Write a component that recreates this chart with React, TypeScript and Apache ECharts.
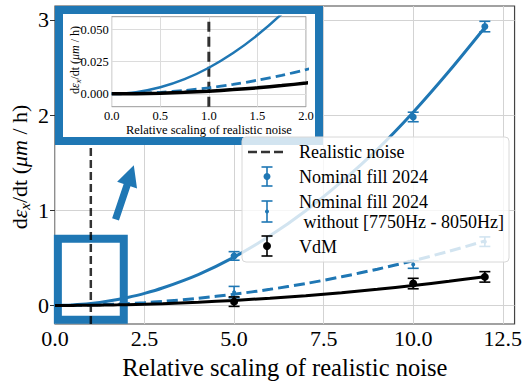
import React, { useEffect, useRef } from 'react';
import * as echarts from 'echarts';

const BLUE = '#1f77b4';
const FONT = 'Liberation Serif';

// fitted curves
const curveX = [0, 0.25, 0.5, 0.75, 1, 1.25, 1.5, 1.75, 2, 2.5, 3, 4, 5, 6, 7, 8, 9, 10, 11, 12];
const nominalFit = [0, 0.0013, 0.0051, 0.0114, 0.0203, 0.0317, 0.0457, 0.0622, 0.0812, 0.127, 0.183, 0.325, 0.508, 0.731, 0.995, 1.3, 1.64, 2.03, 2.46, 2.92];
const withoutFit = [0, 0.0003, 0.0012, 0.0026, 0.0047, 0.0073, 0.0106, 0.0144, 0.0188, 0.029, 0.042, 0.075, 0.118, 0.169, 0.23, 0.301, 0.381, 0.47, 0.569, 0.677];
const vdmFit = [0, 0.0001, 0.0005, 0.0012, 0.0021, 0.0033, 0.0047, 0.0064, 0.0084, 0.013, 0.019, 0.034, 0.053, 0.076, 0.103, 0.134, 0.17, 0.21, 0.254, 0.302];

// measured points with error bars
const pointX = [5, 10, 12];
const nominalY = [0.52, 1.98, 2.93];
const nominalErr = [0.045, 0.05, 0.055];
const withoutY = [0.14, 0.43, 0.67];
const withoutErr = [0.06, 0.04, 0.05];
const vdmY = [0.04, 0.23, 0.3];
const vdmErr = [0.05, 0.055, 0.055];

const realisticNoise = 1;

// axes
const mainXRange = [0, 12.83];
const mainYRange = [-0.195, 3.146];
const mainXTicks = [0, 2.5, 5, 7.5, 10, 12.5];
const mainYTicks = [0, 1, 2, 3];
const insetXRange = [0, 2];
const insetYRange = [-0.01, 0.06];
const insetYTicks = [0, 0.025, 0.05];

// zoom box [x0, y0, x1, y1] and arrow [tailX, tailY, tipX, tipY] in data units
const zoomBox = [0.08, -0.15, 1.92, 0.7];
const arrow = [1.69, 0.905, 2.2, 1.473];

const xTitle = 'Relative scaling of realistic noise';
const legendLabels = ['Realistic noise', 'Nominal fill 2024', 'Nominal fill 2024', ' without [7750Hz - 8050Hz]', 'VdM'];

function errRenderer(color: string, r: number, cap: number, lw: number) {
  return (params: any, api: any) => {
    const x = api.value(0), y = api.value(1), e = api.value(2);
    const p = api.coord([x, y]);
    const lo = api.coord([x, y - e]);
    const hi = api.coord([x, y + e]);
    const st = { stroke: color, lineWidth: lw };
    return {
      type: 'group',
      children: [
        { type: 'line', shape: { x1: p[0], y1: lo[1], x2: p[0], y2: hi[1] }, style: st },
        { type: 'line', shape: { x1: p[0] - cap, y1: lo[1], x2: p[0] + cap, y2: lo[1] }, style: st },
        { type: 'line', shape: { x1: p[0] - cap, y1: hi[1], x2: p[0] + cap, y2: hi[1] }, style: st },
        { type: 'circle', shape: { cx: p[0], cy: p[1], r }, style: { fill: color } },
      ],
    };
  };
}

function pairs(xs: number[], ys: number[]) {
  return xs.map((x, i) => [x, ys[i]]);
}
function triples(xs: number[], ys: number[], es: number[]) {
  return xs.map((x, i) => [x, ys[i], es[i]]);
}

export default function App() {
  const ref = useRef<HTMLDivElement>(null);
  useEffect(() => {
    if (!ref.current) return;
    const chart = echarts.init(ref.current, null, { renderer: 'svg' });
    const lineBase = { type: 'line', symbol: 'none', smooth: 0.3, silent: true };
    const yRich = (fs: number, sub: number, pad: number) => ({
      a: { fontSize: fs, fontFamily: FONT, fill: '#000' },
      i: { fontSize: fs, fontFamily: FONT, fontStyle: 'italic', fill: '#000' },
      s: { fontSize: sub, fontFamily: FONT, fontStyle: 'italic', fill: '#000', padding: [pad, 0, 0, 0] },
    });
    const yTitleText = '{a|d}{i|ε}{s|x}{a|/dt (}{i|μm}{a| / h)}';

    const option: any = {
      animation: false,
      textStyle: { fontFamily: FONT },
      grid: [
        { left: 55, right: 8, top: 6, bottom: 58, show: true, borderColor: '#444', borderWidth: 1.2, backgroundColor: '#fff', z: 0 },
        { left: 111.7, top: 16.7, width: 194.3, height: 90, show: true, borderColor: '#999', borderWidth: 1, backgroundColor: 'transparent', z: 6 },
      ],
      xAxis: [
        {
          type: 'value', gridIndex: 0, min: mainXRange[0], max: mainXRange[1], interval: 2.5,
          axisLine: { show: false },
          axisTick: { show: false, customValues: mainXTicks },
          axisLabel: { customValues: mainXTicks, formatter: (v: number) => v.toFixed(1), fontSize: 22, color: '#000', margin: 3, fontFamily: FONT },
          splitLine: { show: true, lineStyle: { color: '#d3d3d3', width: 1 } },
          name: xTitle, nameLocation: 'middle', nameGap: 31,
          nameTextStyle: { fontSize: 24.5, color: '#000', fontFamily: FONT },
        },
        {
          type: 'value', gridIndex: 1, min: insetXRange[0], max: insetXRange[1], interval: 0.5, z: 6,
          axisLine: { show: false },
          axisTick: { show: false },
          axisLabel: { formatter: (v: number) => v.toFixed(1), fontSize: 12.5, color: '#000', margin: 3, fontFamily: FONT },
          splitLine: { show: true, lineStyle: { color: '#dcdcdc', width: 1 } },
          name: xTitle, nameLocation: 'middle', nameGap: 16,
          nameTextStyle: { fontSize: 12.5, color: '#000', fontFamily: FONT },
        },
      ],
      yAxis: [
        {
          type: 'value', gridIndex: 0, min: mainYRange[0], max: mainYRange[1], splitNumber: 3,
          axisLine: { show: false },
          axisTick: { show: true, length: 5, lineStyle: { color: '#333' }, customValues: mainYTicks },
          axisLabel: { customValues: mainYTicks, formatter: (v: number) => String(Math.round(v)), fontSize: 22, color: '#000', margin: 6, fontFamily: FONT },
          splitLine: { show: true, lineStyle: { color: '#d3d3d3', width: 1 } },
        },
        {
          type: 'value', gridIndex: 1, min: insetYRange[0], max: insetYRange[1], z: 6,
          axisLine: { show: false },
          axisTick: { show: false, customValues: insetYTicks },
          axisLabel: { customValues: insetYTicks, formatter: (v: number) => v.toFixed(3), fontSize: 12.5, color: '#000', margin: 3, fontFamily: FONT },
          splitLine: { show: true, lineStyle: { color: '#dcdcdc', width: 1 } },
        },
      ],
      series: [
        // zoom box in main plot
        {
          type: 'custom', xAxisIndex: 0, yAxisIndex: 0, z: 2, silent: true, clip: false,
          data: [zoomBox], encode: { x: [0, 2], y: [1, 3] },
          renderItem: (params: any, api: any) => {
            const a = api.coord([api.value(0), api.value(3)]);
            const b = api.coord([api.value(2), api.value(1)]);
            return { type: 'rect', shape: { x: a[0], y: a[1], width: b[0] - a[0], height: b[1] - a[1] }, style: { fill: 'none', stroke: BLUE, lineWidth: 8, lineJoin: 'miter' } };
          },
        },
        // arrow
        {
          type: 'custom', xAxisIndex: 0, yAxisIndex: 0, z: 3, silent: true, clip: false,
          data: [arrow], encode: { x: [0, 2], y: [1, 3] },
          renderItem: (params: any, api: any) => {
            const t = api.coord([api.value(0), api.value(1)]);
            const h = api.coord([api.value(2), api.value(3)]);
            const dx = h[0] - t[0], dy = h[1] - t[1];
            const len = Math.hypot(dx, dy);
            const ux = dx / len, uy = dy / len;
            const nx = -uy, ny = ux;
            const hl = 21, hw = 10.5, sw = 3.6;
            const bx = h[0] - ux * hl, by = h[1] - uy * hl;
            const pts = [
              [t[0] + nx * sw, t[1] + ny * sw], [bx + nx * sw, by + ny * sw], [bx + nx * hw, by + ny * hw],
              [h[0], h[1]], [bx - nx * hw, by - ny * hw], [bx - nx * sw, by - ny * sw], [t[0] - nx * sw, t[1] - ny * sw],
            ];
            return { type: 'polygon', shape: { points: pts }, style: { fill: BLUE } };
          },
        },
        { ...lineBase, xAxisIndex: 0, yAxisIndex: 0, z: 3, smooth: false, data: [[realisticNoise, mainYRange[0]], [realisticNoise, mainYRange[1]]], lineStyle: { color: 'rgba(0,0,0,0.8)', width: 2.5, type: [8, 4] } },
        { ...lineBase, xAxisIndex: 0, yAxisIndex: 0, z: 3, data: pairs(curveX, nominalFit), lineStyle: { color: BLUE, width: 3 } },
        { ...lineBase, xAxisIndex: 0, yAxisIndex: 0, z: 3, data: pairs(curveX, withoutFit), lineStyle: { color: BLUE, width: 3, type: [11, 5] } },
        { ...lineBase, xAxisIndex: 0, yAxisIndex: 0, z: 3, data: pairs(curveX, vdmFit), lineStyle: { color: '#000', width: 3 } },
        { type: 'custom', xAxisIndex: 0, yAxisIndex: 0, z: 4, silent: true, clip: false, data: triples(pointX, nominalY, nominalErr), encode: { x: 0, y: 1 }, renderItem: errRenderer(BLUE, 3.5, 5.5, 1.6) },
        { type: 'custom', xAxisIndex: 0, yAxisIndex: 0, z: 4, silent: true, clip: false, data: triples(pointX, withoutY, withoutErr), encode: { x: 0, y: 1 }, renderItem: errRenderer(BLUE, 2, 5.5, 1.6) },
        { type: 'custom', xAxisIndex: 0, yAxisIndex: 0, z: 4, silent: true, clip: false, data: triples(pointX, vdmY, vdmErr), encode: { x: 0, y: 1 }, renderItem: errRenderer('#000', 4, 5.5, 1.6) },
        // inset
        { ...lineBase, xAxisIndex: 1, yAxisIndex: 1, z: 7, smooth: false, data: [[realisticNoise, insetYRange[0]], [realisticNoise, insetYRange[1]]], lineStyle: { color: 'rgba(0,0,0,0.8)', width: 3, type: [10, 5] } },
        { ...lineBase, xAxisIndex: 1, yAxisIndex: 1, z: 7, data: pairs(curveX, nominalFit), lineStyle: { color: BLUE, width: 2.5 } },
        { ...lineBase, xAxisIndex: 1, yAxisIndex: 1, z: 7, data: pairs(curveX, withoutFit), lineStyle: { color: BLUE, width: 2.8, type: [10, 5] } },
        { ...lineBase, xAxisIndex: 1, yAxisIndex: 1, z: 7, data: pairs(curveX, vdmFit), lineStyle: { color: '#000', width: 3.5 } },
      ],
      graphic: [
        { type: 'rect', z: 5, silent: true, shape: { x: 59, y: 10, width: 260, height: 131 }, style: { fill: '#fff', stroke: BLUE, lineWidth: 8 } },
        { type: 'text', z: 1, silent: true, x: 19, y: 167, rotation: Math.PI / 2, style: { text: yTitleText, rich: yRich(22, 15, 11), align: 'center', verticalAlign: 'middle' } },
        { type: 'text', z: 8, silent: true, x: 75, y: 60, rotation: Math.PI / 2, style: { text: yTitleText, rich: yRich(12, 8.5, 6), align: 'center', verticalAlign: 'middle' } },
        {
          type: 'group', z: 10, silent: true,
          children: [
            { type: 'rect', z: 10, shape: { x: 242, y: 137, width: 267, height: 125, r: 4 }, style: { fill: 'rgba(255,255,255,0.8)', stroke: '#d8d8d8', lineWidth: 1 } },
            { type: 'line', z: 10, shape: { x1: 248, y1: 152, x2: 284, y2: 152 }, style: { stroke: '#333', lineWidth: 2.5, lineDash: [9, 4] } },
            { type: 'line', z: 10, shape: { x1: 267, y1: 167, x2: 267, y2: 186 }, style: { stroke: BLUE, lineWidth: 1.6 } },
            { type: 'line', z: 10, shape: { x1: 261.5, y1: 167, x2: 272.5, y2: 167 }, style: { stroke: BLUE, lineWidth: 1.6 } },
            { type: 'line', z: 10, shape: { x1: 261.5, y1: 186, x2: 272.5, y2: 186 }, style: { stroke: BLUE, lineWidth: 1.6 } },
            { type: 'circle', z: 10, shape: { cx: 267, cy: 176.5, r: 3.5 }, style: { fill: BLUE } },
            { type: 'line', z: 10, shape: { x1: 267, y1: 201, x2: 267, y2: 222 }, style: { stroke: BLUE, lineWidth: 1.6 } },
            { type: 'line', z: 10, shape: { x1: 261.5, y1: 201, x2: 272.5, y2: 201 }, style: { stroke: BLUE, lineWidth: 1.6 } },
            { type: 'line', z: 10, shape: { x1: 261.5, y1: 222, x2: 272.5, y2: 222 }, style: { stroke: BLUE, lineWidth: 1.6 } },
            { type: 'circle', z: 10, shape: { cx: 267, cy: 211.5, r: 2 }, style: { fill: BLUE } },
            { type: 'line', z: 10, shape: { x1: 267, y1: 236, x2: 267, y2: 256 }, style: { stroke: '#000', lineWidth: 1.6 } },
            { type: 'line', z: 10, shape: { x1: 261.5, y1: 236, x2: 272.5, y2: 236 }, style: { stroke: '#000', lineWidth: 1.6 } },
            { type: 'line', z: 10, shape: { x1: 261.5, y1: 256, x2: 272.5, y2: 256 }, style: { stroke: '#000', lineWidth: 1.6 } },
            { type: 'circle', z: 10, shape: { cx: 267, cy: 246, r: 4 }, style: { fill: '#000' } },
            { type: 'text', z: 10, x: 299, y: 152, style: { text: legendLabels[0], fontSize: 18, fontFamily: FONT, fill: '#000', verticalAlign: 'middle' } },
            { type: 'text', z: 10, x: 299, y: 177, style: { text: legendLabels[1], fontSize: 18, fontFamily: FONT, fill: '#000', verticalAlign: 'middle' } },
            { type: 'text', z: 10, x: 299, y: 202, style: { text: legendLabels[2], fontSize: 18, fontFamily: FONT, fill: '#000', verticalAlign: 'middle' } },
            { type: 'text', z: 10, x: 299, y: 222, style: { text: legendLabels[3], fontSize: 18, fontFamily: FONT, fill: '#000', verticalAlign: 'middle' } },
            { type: 'text', z: 10, x: 299, y: 247, style: { text: legendLabels[4], fontSize: 18, fontFamily: FONT, fill: '#000', verticalAlign: 'middle' } },
          ],
        },
      ],
    };
    chart.setOption(option);
    return () => chart.dispose();
  }, []);
  return <div ref={ref} style={{ width: 525, height: 385, position: 'absolute', left: 0, top: 0 }} />;
}
